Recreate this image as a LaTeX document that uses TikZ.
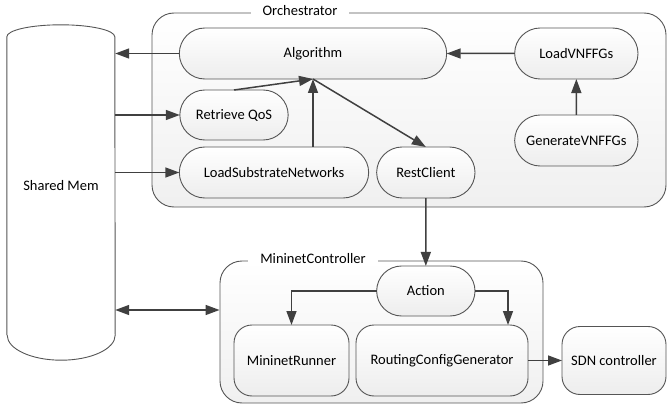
\documentclass[tikz,border=0pt]{standalone}
\usepackage{fontspec}
\setmainfont{Carlito}
\usetikzlibrary{positioning,shapes.misc,arrows.meta}
\definecolor{edge}{HTML}{404040}
\definecolor{rim}{HTML}{555555}
\begin{document}
\begin{tikzpicture}[x=1pt, y=-1pt, node distance={10pt},
  font=\fontsize{14.5}{17}\selectfont,
  pill/.style = {draw=rim, line width=0.9pt, rounded rectangle, top color=white, bottom color=gray!14, minimum height=51pt, outer sep=0pt},
  box/.style = {draw=rim, line width=0.9pt, rounded corners=18pt, top color=white, bottom color=gray!14, minimum height=71pt, outer sep=0pt},
  group/.style = {draw=rim, line width=0.9pt, rounded corners=22pt, top color=white, bottom color=gray!12},
  title/.style = {fill=white, inner xsep=12pt, inner ysep=1pt},
  arr/.style = {draw=edge, line width=1.5pt, -{Triangle[length=14pt,width=10pt]}},
  dbl/.style = {arr, {Triangle[length=14pt,width=10pt]}-{Triangle[length=14pt,width=10pt]}}]
\useasboundingbox (0,0) rectangle (667,409);

% containers
\node[group, minimum width=514pt, minimum height=194pt] (orch) at (409,110) {};
\node[group, minimum width=323pt, minimum height=142pt] (mini) at (381.5,332) {};
\node[title] (orchtitle) at (300,11) {Orchestrator};
\node[title] (minititle) at (313,259) {MininetController};

% shared memory
\node[minimum width=108pt, minimum height=298pt] (mem) at (61,186) {};
\draw[rim, line width=0.9pt, fill=white] (mem.south west) -- (mem.north west)
  arc[start angle=180, end angle=0, x radius=54pt, y radius=12pt]
  -- (mem.south east)
  arc[start angle=0, end angle=-180, x radius=54pt, y radius=25pt];
\node (memlabel) at (mem) {Shared Mem};

% orchestrator
\node[pill, minimum width=274pt] (algo) at (313,53.5) {Algorithm};
\node[pill, minimum width=115pt, minimum height=50pt] (qos) [below=11pt of algo.south west, anchor=north west] {Retrieve QoS};
\node[pill, minimum width=196pt] (load) [below=7pt of qos.south west, anchor=north west] {LoadSubstrateNetworks};
\node[pill, minimum width=105pt] (rest) [right=8pt of load] {RestClient};
\node[pill, minimum width=130pt] (vnf) [right=68pt of algo] {LoadVNFFGs};
\node[pill, minimum width=130pt] (gen) [below=36pt of vnf] {GenerateVNFFGs};

% mininet controller
\node[pill, minimum width=105pt, minimum height=50pt] (action) [below=68pt of rest] {Action};
\node[box, minimum width=172pt] (rcg) at (442,360.5) {RoutingConfigGenerator};
\node[box, minimum width=115pt] (runner) [left=7pt of rcg] {MininetRunner};
\node[box, minimum width=104pt, minimum height=68pt] (sdn) [right=34pt of rcg] {SDN controller};
\coordinate (link) at ([yshift=22pt]mini.west);

\draw[arr] (algo.west) -- (algo.west -| mem.east);
\draw[arr] (qos.west -| mem.east) -- (qos.west);
\draw[arr] (load.west -| mem.east) -- (load.west);
\draw[arr] (qos.north) -- (algo.south);
\draw[arr] (algo.south |- load.north) -- (algo.south);
\draw[arr] (algo.south) -- (rest.north);
\draw[arr] (vnf) -- (algo);
\draw[arr] (gen) -- (vnf);
\draw[arr] (rest) -- (action);
\draw[arr] (action.west) -| (runner.north);
\draw[arr] (action.east) -| ([xshift=-20pt]rcg.north east);
\draw[arr] (rcg) -- (sdn);
\draw[dbl] (link -| mem.east) -- (link);

\end{tikzpicture}
\end{document}
